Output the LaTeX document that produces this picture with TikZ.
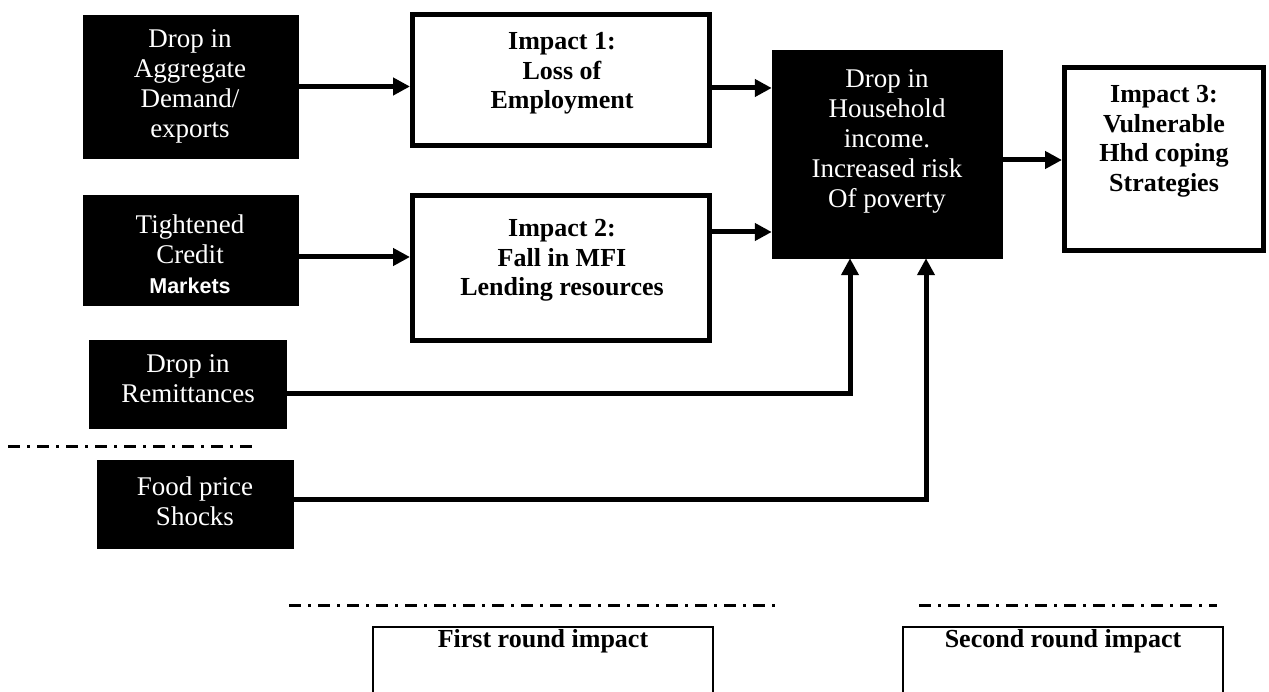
\documentclass[tikz,border=0pt]{standalone}
\usepackage{fontspec}
\setmainfont{Liberation Serif}
\newfontfamily\arialf{Liberation Sans}
\usetikzlibrary{arrows.meta}
\begin{document}
\begin{tikzpicture}[x=1pt,y=-1pt,
  darkbox/.style={fill=black, draw=black, line width=0.5pt, inner sep=0pt},
  impbox/.style={draw=black, line width=5pt, fill=white, inner sep=0pt},
  roundbox/.style={draw=black, line width=1.6pt, inner sep=0pt},
  wtext/.style={text=white, align=center, font=\fontsize{27}{30}\selectfont, inner sep=0pt},
  btext/.style={align=center, font=\fontsize{26}{29.5}\selectfont\bfseries, inner sep=0pt},
  arr/.style={line width=5pt, -{Triangle[length=17pt,width=17pt]}},
  dashdot/.style={line width=3pt, dash pattern=on 12pt off 7pt on 3pt off 7pt}]
\useasboundingbox (0,0) rectangle (1269,692);
% dark source boxes
\node[darkbox, minimum width=215pt, minimum height=143pt] (A) at (190.5,86.5) {};
\node[wtext] (At) at (190,86) {Drop in\\Aggregate\\Demand/\\exports};
\node[darkbox, minimum width=215pt, minimum height=110pt] (B) at (190.5,250) {};
\node[wtext] (Bt) at (190,254) {Tightened\\Credit\\{\arialf\bfseries\fontsize{21.5}{29}\selectfont Markets}};
\node[darkbox, minimum width=197pt, minimum height=88pt] (C) at (187.5,384) {};
\node[wtext] (Ct) at (188,379) {Drop in\\Remittances};
\node[darkbox, minimum width=196pt, minimum height=88pt] (D) at (195,504) {};
\node[wtext] (Dt) at (195,501) {Food price\\Shocks};
% impact boxes
\node[impbox, minimum width=297pt, minimum height=131pt] (I1) at (561,80) {};
\node[btext] (I1t) at (562,73.5) {Impact 1:\\Loss of\\Employment};
\node[impbox, minimum width=297pt, minimum height=145pt] (I2) at (561,268) {};
\node[btext] (I2t) at (562,260.5) {Impact 2:\\Fall in MFI\\Lending resources};
\node[darkbox, minimum width=230pt, minimum height=208pt] (H) at (887,154) {};
\node[wtext] (Ht) at (887,141) {Drop in\\Household\\income.\\Increased risk\\Of poverty};
\node[impbox, minimum width=199pt, minimum height=183pt] (I3) at (1164,159) {};
\node[btext] (I3t) at (1164,141.5) {Impact 3:\\Vulnerable\\Hhd coping\\Strategies};
% connectors
\draw[arr] (A.east) -- (A.east -| I1.west);
\draw[arr] ([yshift=-8pt]I1.east) -- ([yshift=-8pt]I1.east -| H.west);
\draw[arr] ([yshift=-7pt]B.east) -- ([yshift=-7pt]B.east -| I2.west);
\draw[arr] ([yshift=36pt]I2.east) -- ([yshift=36pt]I2.east -| H.west);
\draw[arr] ([yshift=-6pt]H.east) -- ([yshift=-6pt]H.east -| I3.west);
\coordinate (hc) at ([xshift=-37pt]H.south);
\coordinate (hd) at ([xshift=39pt]H.south);
\draw[arr] ([yshift=-10pt]C.east) -| (hc);
\draw[arr] ([yshift=5pt]D.east) -| (hd);
% dash-dot separators
\coordinate (l1a) at (8,446); \coordinate (l1b) at (252,446);
\draw[dashdot] (l1a) -- (l1b);
\coordinate (l2a) at (289,605); \coordinate (l2b) at (779,605);
\draw[dashdot] (l2a) -- (l2b);
\coordinate (l3a) at (919,605); \coordinate (l3b) at (1217,605);
\draw[dashdot] (l3a) -- (l3b);
% bottom boxes (open at the bottom edge of the picture)
\node[roundbox, minimum width=340pt, minimum height=100pt] (R1) at (543,677) {};
\node[btext] (R1t) at (543,641) {First round impact};
\node[roundbox, minimum width=320pt, minimum height=100pt] (R2) at (1063,677) {};
\node[btext] (R2t) at (1063,641) {Second round impact};
\end{tikzpicture}
\end{document}
